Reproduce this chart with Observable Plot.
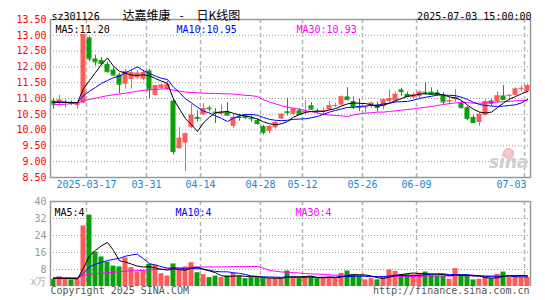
<!DOCTYPE html>
<html><head><meta charset="utf-8">
<script src="https://cdn.jsdelivr.net/npm/d3@7"></script>
<script src="https://cdn.jsdelivr.net/npm/@observablehq/plot@0.6"></script>
<style>
html,body{margin:0;padding:0;background:#fff;}
#chart{position:relative;width:545px;height:300px;overflow:hidden;background:#fff;}
#chart svg{position:absolute;left:0;}
</style></head><body><div id="chart"></div>
<script>
const dates = ["2025-03-07","2025-03-10","2025-03-11","2025-03-12","2025-03-13","2025-03-14",
"2025-03-17","2025-03-18","2025-03-19","2025-03-20","2025-03-21",
"2025-03-24","2025-03-25","2025-03-26","2025-03-27","2025-03-28",
"2025-03-31","2025-04-01","2025-04-02","2025-04-03",
"2025-04-07","2025-04-08","2025-04-09","2025-04-10","2025-04-11",
"2025-04-14","2025-04-15","2025-04-16","2025-04-17","2025-04-18",
"2025-04-21","2025-04-22","2025-04-23","2025-04-24","2025-04-25",
"2025-04-28","2025-04-29","2025-04-30",
"2025-05-06","2025-05-07","2025-05-08","2025-05-09",
"2025-05-12","2025-05-13","2025-05-14","2025-05-15","2025-05-16",
"2025-05-19","2025-05-20","2025-05-21","2025-05-22","2025-05-23",
"2025-05-26","2025-05-27","2025-05-28","2025-05-29","2025-05-30",
"2025-06-03","2025-06-04","2025-06-05","2025-06-06",
"2025-06-09","2025-06-10","2025-06-11","2025-06-12","2025-06-13",
"2025-06-16","2025-06-17","2025-06-18","2025-06-19","2025-06-20",
"2025-06-23","2025-06-24","2025-06-25","2025-06-26","2025-06-27",
"2025-06-30","2025-07-01","2025-07-02","2025-07-03"];

const open = [10.92,10.85,10.85,10.88,10.78,10.85,12.92,12.25,12.20,12.08,
11.90,11.74,11.45,11.60,11.65,11.61,11.87,11.10,11.32,11.29,
10.92,9.41,9.59,10.08,10.40,10.48,10.70,10.57,10.50,10.57,
10.12,10.42,10.45,10.38,10.30,10.11,9.96,10.07,10.35,10.58,
10.50,10.61,10.55,10.77,10.60,10.58,10.64,10.76,10.79,11.05,
10.90,10.74,10.71,10.77,10.79,10.75,10.90,10.92,11.27,11.13,
11.03,11.06,11.20,11.20,11.18,11.08,10.89,10.96,10.85,10.71,
10.40,10.24,10.47,10.92,10.89,11.08,11.08,11.10,11.30,11.21];

const high = [11.00,11.10,10.95,10.92,10.88,13.02,12.95,12.37,12.30,12.15,
11.97,11.80,11.92,11.90,11.88,11.90,11.92,11.42,11.45,11.55,
11.00,10.08,9.91,10.80,10.61,10.83,10.76,10.68,10.80,10.87,
10.50,10.50,10.45,10.45,10.35,10.15,10.14,10.28,10.52,11.01,
10.70,10.68,10.93,10.87,10.66,10.70,10.90,10.85,11.08,11.34,
11.05,11.00,10.76,10.89,10.89,11.00,11.27,11.20,11.32,11.20,
11.18,11.24,11.49,11.34,11.26,11.18,11.03,11.28,10.92,10.76,
10.47,10.55,10.96,10.96,11.21,11.40,11.12,11.33,11.40,11.44];

const low = [10.66,10.80,10.70,10.78,10.66,10.85,12.16,12.03,12.05,11.80,
11.70,11.15,11.29,11.30,11.60,11.56,11.00,11.08,11.28,11.25,
9.21,9.40,8.69,10.05,10.26,10.45,10.58,10.21,10.45,10.45,
10.05,10.28,10.33,10.25,10.15,9.84,9.89,10.03,10.33,10.45,
10.47,10.47,10.45,10.62,10.52,10.45,10.61,10.70,10.77,10.96,
10.65,10.59,10.55,10.68,10.58,10.64,10.85,10.88,11.06,11.03,
11.00,11.00,11.10,11.10,11.06,10.79,10.79,10.87,10.66,10.30,
10.21,10.12,10.43,10.75,10.85,10.97,10.92,11.07,11.22,11.18];

const close = [10.82,10.95,10.88,10.84,10.85,13.02,12.25,12.16,12.10,11.85,
11.74,11.45,11.85,11.82,11.80,11.82,11.29,11.40,11.42,11.45,
9.32,9.74,9.88,10.47,10.37,10.68,10.67,10.54,10.57,10.47,
10.40,10.40,10.40,10.36,10.21,9.93,10.11,10.24,10.50,10.55,
10.66,10.50,10.58,10.66,10.58,10.61,10.77,10.78,11.05,10.96,
10.75,10.72,10.73,10.85,10.71,10.96,11.00,11.13,11.22,11.06,
11.11,11.20,11.18,11.13,11.13,10.89,10.93,11.03,10.71,10.37,
10.24,10.50,10.90,10.85,11.08,10.97,11.10,11.30,11.32,11.40];

const volume = [3.4,4.6,3.4,3.1,3.7,28.5,33.6,16.2,13.9,11.5,
9.6,9.2,13.4,8.9,6.8,7.3,10.4,10.0,6.0,4.9,
10.6,7.8,9.2,11.2,6.5,5.6,4.2,4.9,4.2,4.9,
6.2,4.9,3.7,4.2,4.5,3.7,3.7,3.7,3.7,7.3,
4.5,3.7,4.5,4.5,3.7,4.2,4.5,3.7,6.2,7.3,
5.7,4.9,3.1,3.7,3.1,4.2,7.8,7.1,5.7,5.6,
5.6,6.2,6.8,5.3,4.9,4.9,3.4,8.4,4.9,4.9,
3.1,3.4,4.5,3.7,5.7,6.8,4.2,4.9,4.5,4.2];

const ma5 = [10.88,10.89,10.88,10.87,10.87,11.31,11.57,11.82,12.08,12.28,
12.02,11.86,11.80,11.74,11.73,11.75,11.72,11.63,11.55,11.48,
10.98,10.67,10.36,10.17,9.96,10.23,10.41,10.55,10.57,10.59,
10.53,10.48,10.45,10.41,10.35,10.26,10.20,10.17,10.20,10.27,
10.41,10.49,10.56,10.59,10.60,10.59,10.64,10.68,10.76,10.83,
10.86,10.85,10.84,10.80,10.75,10.79,10.85,10.93,11.00,11.07,
11.10,11.14,11.15,11.14,11.15,11.11,11.05,11.02,10.94,10.79,
10.66,10.57,10.54,10.57,10.71,10.86,10.98,11.06,11.15,11.22];

const ma10 = [10.88,10.88,10.88,10.87,10.87,11.09,11.23,11.35,11.48,11.57,
11.66,11.71,11.81,11.91,12.00,11.88,11.79,11.71,11.64,11.60,
11.36,11.19,10.99,10.86,10.72,10.60,10.54,10.45,10.37,10.27,
10.38,10.45,10.50,10.49,10.47,10.40,10.34,10.31,10.30,10.31,
10.34,10.35,10.36,10.39,10.43,10.50,10.57,10.62,10.67,10.72,
10.72,10.75,10.76,10.78,10.79,10.83,10.85,10.89,10.90,10.91,
10.95,11.00,11.04,11.07,11.11,11.11,11.10,11.09,11.04,10.97,
10.88,10.81,10.78,10.76,10.75,10.76,10.78,10.80,10.86,10.97];

const ma30 = [10.80,10.81,10.82,10.84,10.86,10.93,10.97,11.01,11.05,11.09,
11.12,11.14,11.17,11.20,11.23,11.26,11.27,11.29,11.30,11.31,
11.26,11.23,11.20,11.19,11.18,11.17,11.16,11.16,11.15,11.15,
11.14,11.12,11.10,11.09,11.06,10.96,10.89,10.83,10.77,10.73,
10.69,10.66,10.62,10.58,10.54,10.50,10.48,10.46,10.45,10.43,
10.48,10.51,10.54,10.55,10.57,10.57,10.59,10.61,10.63,10.65,
10.67,10.70,10.72,10.75,10.78,10.81,10.84,10.86,10.87,10.87,
10.85,10.85,10.86,10.87,10.89,10.90,10.91,10.93,10.93,10.95];

const vma5 = [3.9,3.9,3.8,3.7,3.64,8.66,14.46,17.02,19.18,20.74,
16.96,12.08,11.52,10.52,9.58,9.12,9.36,8.68,8.10,7.72,
8.38,7.86,7.70,8.74,9.06,8.06,7.34,6.48,5.08,4.76,
4.88,5.02,4.78,4.78,4.70,4.20,3.96,3.96,3.86,4.42,
4.58,4.58,4.74,4.90,4.18,4.12,4.28,4.12,4.46,5.18,
5.48,5.56,5.44,4.94,4.10,3.80,4.38,5.18,5.58,6.08,
6.36,6.04,5.98,5.90,5.76,5.62,5.06,5.38,5.30,5.30,
4.94,4.94,4.16,3.92,4.08,4.82,4.98,5.06,5.22,4.92];

const vma10 = [4.0,4.0,4.0,4.0,3.9,6.27,9.23,10.45,11.44,12.19,
12.81,13.27,14.27,14.85,15.16,13.04,10.72,10.10,9.31,8.65,
8.75,8.61,8.19,8.42,8.39,8.22,7.60,7.09,6.91,6.91,
6.47,6.18,5.63,4.93,4.73,4.54,4.49,4.37,4.32,4.56,
4.39,4.27,4.35,4.38,4.30,4.35,4.43,4.43,4.68,4.68,
4.80,4.92,4.78,4.70,4.64,4.64,4.97,5.31,5.26,5.09,
5.08,5.21,5.58,5.74,5.92,5.99,5.55,5.68,5.60,5.53,
5.28,5.00,4.77,4.61,4.69,4.88,4.96,4.61,4.57,4.50];

const vma30 = [4.0,4.0,4.0,4.0,4.0,5.0,5.8,6.1,6.3,6.5,
6.7,6.9,7.2,7.4,7.5,7.6,7.8,8.0,8.1,8.2,
8.5,8.7,8.9,9.1,9.2,9.2,9.2,9.2,9.2,9.25,
9.34,9.35,9.36,9.40,9.43,8.60,7.60,7.19,6.85,6.71,
6.54,6.35,6.06,5.91,5.81,5.70,5.51,5.30,5.30,5.38,
5.22,5.12,4.92,4.67,4.56,4.51,4.63,4.70,4.75,4.78,
4.76,4.80,4.90,4.94,4.95,4.99,4.98,5.14,5.18,5.10,
5.05,5.04,5.04,5.02,5.08,5.17,5.16,5.20,5.14,5.04];

const gridDates = ["2025-03-17","2025-03-31","2025-04-14","2025-04-28","2025-05-12","2025-05-26","2025-06-09","2025-07-03"];
const gridLabels = ["2025-03-17","03-31","04-14","04-28","05-12","05-26","06-09","07-03"];
const priceTicks = [13.5,13.0,12.5,12.0,11.5,11.0,10.5,10.0,9.5,9.0,8.5];
const priceGrid = [13.0,12.5,12.0,11.5,11.0,10.5,10.0,9.5,9.0];
const volTicks = [40,32,24,16,8];
const volGrid = [32,24,16,8];
const priceLegend = ["MA5:11.20","MA10:10.95","MA30:10.93"];
const volLegend = ["MA5:4","MA10:4","MA30:4"];
const titleCode = "sz301126";
const titleName = "达嘉维康";
const titleKind = "日K线图";
const stamp = "2025-07-03 15:00:00";

const MONO = "DejaVu Sans Mono, monospace";
const CJK = "Noto Sans CJK SC, sans-serif";
const RED = "#ff5a5a", GREEN = "#0aa00a";
const legendColors = ["#000000","#0000ff","#ff00ff"];
const legendDx = [5,126,246];

const rows = dates.map((d,i)=>({d, o:open[i], h:high[i], l:low[i], c:close[i], v:volume[i], col: close[i]>=open[i]?RED:GREEN}));
const series = arr => dates.map((d,i)=>({d, y:arr[i]}));
const dotted = {stroke:"#999", strokeDasharray:"1,2"};
const dashed = {dx:-3, stroke:"#b4b4b4", strokeWidth:1.5, strokeDasharray:"4,3"};
const tx = (s, o) => Plot.text([s], {text: d=>d, fontFamily: MONO, fontSize:10, ...o});

const p1 = Plot.plot({
  width:545, height:192, marginLeft:50, marginRight:15, marginTop:19, marginBottom:15,
  x:{type:"band", domain:dates, padding:0, axis:null},
  y:{domain:[8.5,13.5], axis:null},
  color:{type:"identity"},
  style:{fontFamily:MONO, fontSize:"10px", background:"transparent"},
  marks:[
    Plot.ruleY(priceGrid, dotted),
    Plot.ruleX(gridDates, dashed),
    Plot.dot([0], {frameAnchor:"bottom-right", dx:-22, dy:-24, r:5, fill:"#f6c8c8", stroke:"#e8a8a8", strokeWidth:1}),
    Plot.text(["sina"], {text:d=>d, frameAnchor:"bottom-right", textAnchor:"end", dx:-2, dy:-10, fontSize:17, fontStyle:"italic", fontWeight:"bold", fontFamily:"DejaVu Sans, sans-serif", fill:"#cfcfcf"}),
    Plot.ruleX(rows, {x:"d", y1:"l", y2:"h", stroke:"col"}),
    Plot.barY(rows, {x:"d", y1:"o", y2:"c", fill:"col", insetLeft:0.5, insetRight:0.5}),
    Plot.tickY(rows, {x:"d", y:"c", stroke:"col", insetLeft:0.5, insetRight:0.5}),
    Plot.line(series(ma30), {x:"d", y:"y", stroke:"#ff00ff", strokeWidth:1}),
    Plot.line(series(ma10), {x:"d", y:"y", stroke:"#0000ff", strokeWidth:1}),
    Plot.line(series(ma5), {x:"d", y:"y", stroke:"#000000", strokeWidth:1}),
    Plot.frame({stroke:"#999", strokeWidth:1.5}),
    Plot.text(priceTicks, {y:d=>d, text:d=>d.toFixed(2), frameAnchor:"left", textAnchor:"end", dx:-4, fill:"#ff0000", fontFamily:MONO, fontSize:10}),
    Plot.text(gridDates.slice(0,7), {x:d=>d, text:(d,i)=>gridLabels[i], frameAnchor:"bottom", dx:-3, dy:10, fill:"#1a87d0", fontFamily:MONO, fontSize:10}),
    Plot.text(gridDates.slice(7), {x:d=>d, text:(d,i)=>gridLabels[7+i], frameAnchor:"bottom", textAnchor:"end", dx:-1, dy:10, fill:"#1a87d0", fontFamily:MONO, fontSize:10}),
    tx(titleCode, {frameAnchor:"top-left", textAnchor:"start", dx:1, dy:-7, fill:"#000"}),
    Plot.text([titleName], {text:d=>d, frameAnchor:"top-left", textAnchor:"start", dx:72, dy:-8, fontFamily:CJK, fontSize:12, fill:"#000"}),
    Plot.text(["-"], {text:d=>d, frameAnchor:"top-left", textAnchor:"middle", dx:131, dy:-8, fontFamily:CJK, fontSize:12, fill:"#000"}),
    Plot.text([titleKind], {text:d=>d, frameAnchor:"top-left", textAnchor:"start", dx:146, dy:-8, fontFamily:CJK, fontSize:12, fill:"#000"}),
    tx(stamp, {frameAnchor:"top-right", textAnchor:"end", dx:1, dy:-7, fill:"#000"}),
    ...priceLegend.map((s,i)=>tx(s, {frameAnchor:"top-left", textAnchor:"start", dx:legendDx[i], dy:6, fill:legendColors[i]}))
  ]
});
p1.style.top = "0px";

const p2 = Plot.plot({
  width:545, height:108, marginLeft:50, marginRight:15, marginTop:9, marginBottom:14,
  x:{type:"band", domain:dates, padding:0, axis:null},
  y:{domain:[0,40], axis:null},
  color:{type:"identity"},
  style:{fontFamily:MONO, fontSize:"10px", background:"transparent"},
  marks:[
    Plot.ruleY(volGrid, dotted),
    Plot.ruleX(gridDates, dashed),
    Plot.barY(rows, {x:"d", y:"v", fill:"col", insetLeft:0.5, insetRight:0.5}),
    Plot.line(series(vma30), {x:"d", y:"y", stroke:"#ff00ff", strokeWidth:1}),
    Plot.line(series(vma10), {x:"d", y:"y", stroke:"#0000ff", strokeWidth:1}),
    Plot.line(series(vma5), {x:"d", y:"y", stroke:"#000000", strokeWidth:1}),
    Plot.ruleY([40], {stroke:"#999", strokeWidth:1.5}),
    Plot.ruleX([dates[0]], {dx:-3, stroke:"#999", strokeWidth:1.5}),
    Plot.ruleX([dates[dates.length-1]], {dx:3, stroke:"#999", strokeWidth:1.5}),
    Plot.text(volTicks, {y:d=>d, text:d=>String(d), frameAnchor:"left", textAnchor:"end", dx:-4, fill:"#999", fontFamily:MONO, fontSize:10}),
    Plot.text(["x万"], {text:d=>d, frameAnchor:"bottom-left", textAnchor:"end", dx:-4, dy:-2, fill:"#aaa", fontFamily:MONO, fontSize:10}),
    ...volLegend.map((s,i)=>tx(s, {frameAnchor:"top-left", textAnchor:"start", dx:legendDx[i]-1, dy:7, fill:legendColors[i]})),
    tx("Copyright 2025 SINA.COM", {frameAnchor:"bottom-left", textAnchor:"start", dx:0, dy:7, fill:"#555"}),
    tx("http://finance.sina.com.cn", {frameAnchor:"bottom-right", textAnchor:"end", dx:-1, dy:7, fill:"#555"})
  ]
});
p2.style.top = "192px";

const host = document.getElementById("chart");
host.appendChild(p1);
host.appendChild(p2);
</script>
</body></html>
